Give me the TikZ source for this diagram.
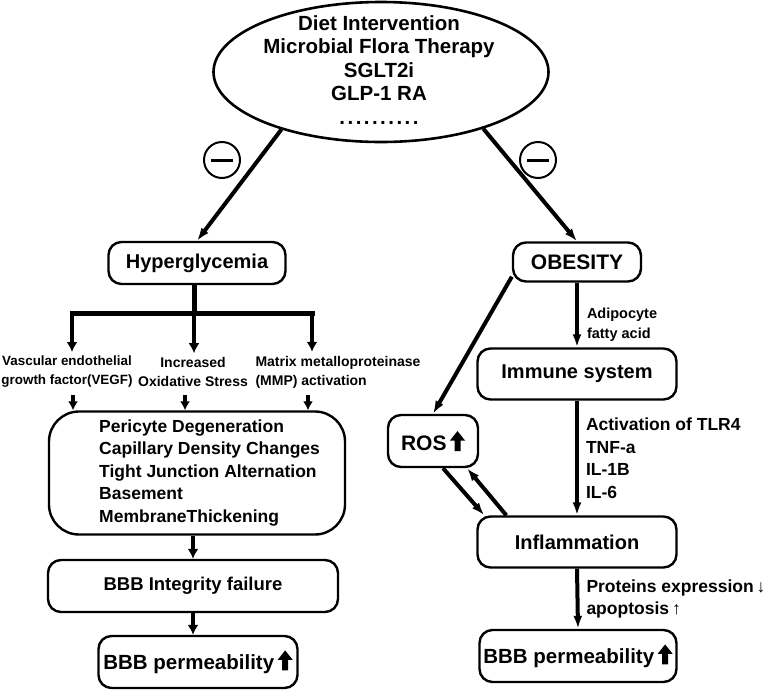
\documentclass[tikz,border=0pt]{standalone}
\usepackage{fontspec}
\setmainfont{Liberation Sans}
\usetikzlibrary{shapes.geometric,arrows.meta,positioning}

% solid up arrow used after "permeability" and "ROS"
\newcommand\thickup{\tikz[x=1pt,y=1pt,baseline=0pt,sharp corners]\fill (-3,-1) -- (3,-1) -- (3,9.5) -- (7.5,9.5) -- (0,19) -- (-7.5,9.5) -- (-3,9.5) -- cycle;}

\tikzset{
  box/.style={draw, line width=2.4pt, rounded corners=13pt, inner sep=0pt, align=center,
    font=\bfseries\fontsize{20}{24}\selectfont},
  note/.style={font=\bfseries\fontsize{14}{19}\selectfont, inner sep=0pt},
  thickarr/.style={line width=4pt, -{Latex[length=13pt,width=9pt]}},
  droparr/.style={line width=4.5pt, -{Latex[length=10pt,width=11pt]}},
  minus/.style={circle, draw, line width=2pt, minimum size=36pt},
}

\begin{document}
\begin{tikzpicture}[x=1pt,y=-1pt]
  \useasboundingbox (0,0) rectangle (765,691);
  % treatments on top
  \node[ellipse, draw, line width=2.6pt, minimum width=335pt, minimum height=140pt] (treat) at (381,72) {};
  \node[font=\bfseries\fontsize{20.5}{23.5}\selectfont, align=center] (treattext) at (379,70)
    {Diet Intervention\\Microbial Flora Therapy\\SGLT2i\\GLP-1 RA\\{\addfontfeatures{LetterSpace=12}..........}};
  \node[minus] (minusL) at (222,160) {};
  \node[minus] (minusR) at (538,160) {};
  \foreach \m in {minusL,minusR}
    \draw[line width=3pt] ([xshift=-11pt]\m.center) -- ([xshift=11pt]\m.center);

  % left branch
  \node[box, minimum width=177pt, minimum height=42pt] (hyper) at (197,263) {Hyperglycemia};
  \draw[thickarr] (treat.210) -- (hyper.north);
  \coordinate (brL) at (72,313);
  \coordinate (brM) at (194,313);
  \coordinate (brR) at (312,313);
  \draw[line width=5pt] (brM |- hyper.south) -- (brM);
  \draw[line width=5pt, line cap=rect] (brL) -- (brR);
  \node[note, align=center, font=\bfseries\fontsize{13.4}{19}\selectfont] (vegf) at (67,372) {Vascular endothelial\\growth factor(VEGF)};
  \node[note, align=center] (oxid) at (193,372) {Increased\\Oxidative Stress};
  \node[note, align=left] (mmp) at (338,372) {Matrix metalloproteinase\\(MMP) activation};
  \foreach \c/\n in {brL/vegf,brM/oxid,brR/mmp}
    \draw[droparr] (\c) -- ([yshift=4pt]\c |- \n.north);

  \node[box, rounded corners=30pt, minimum width=296pt, minimum height=123pt] (patho) at (197,473) {};
  \node[align=left, anchor=west, inner sep=0pt, font=\bfseries\fontsize{17.5}{22.5}\selectfont] (pathotext) at (99,473)
    {Pericyte Degeneration\\Capillary Density Changes\\Tight Junction Alternation\\Basement\\MembraneThickening};
  \foreach \x [count=\i] in {73,185,308}
    \coordinate (drop\i) at (\x,395);
  \foreach \i in {1,2,3}
    \draw[line width=4pt, -{Latex[length=9pt,width=10pt]}] (drop\i) -- (drop\i |- patho.north);

  \node[box, minimum width=290pt, minimum height=52pt, font=\bfseries\fontsize{18.5}{23}\selectfont] (integ) at (193,586) {BBB Integrity failure};
  \node[box, minimum width=199pt, minimum height=52pt, font=\bfseries\fontsize{20.5}{24}\selectfont] (permL) at (198,662) {BBB permeability\,\thickup};
  \draw[droparr] (patho.south -| integ.north) -- (integ.north);
  \draw[droparr] (integ.south) -- (integ.south |- permL.north);

  % right branch
  \node[box, minimum width=128pt, minimum height=39pt, font=\bfseries\fontsize{21}{24}\selectfont] (obese) at (577,262) {OBESITY};
  \draw[thickarr] (treat.331) -- (obese.north);
  \node[box, minimum width=199pt, minimum height=51pt] (immune) at (577,374) {Immune system};
  \node[box, minimum width=90pt, minimum height=52pt, font=\bfseries\fontsize{21}{24}\selectfont] (ros) at (433,441) {ROS\,\thickup};
  \node[box, minimum width=199pt, minimum height=51pt] (inflam) at (577,542) {Inflammation};
  \node[box, minimum width=197pt, minimum height=52pt, font=\bfseries\fontsize{20.5}{24}\selectfont] (permR) at (578,656) {BBB permeability\,\thickup};

  \draw[thickarr] (obese.south) -- (immune.north)
    node[note, align=left, anchor=west, pos=0.65, xshift=8pt, font=\bfseries\fontsize{14.5}{19.5}\selectfont] (adipo) {Adipocyte\\fatty acid};
  \draw[thickarr] ([yshift=6pt]obese.south west) -- (ros.north);
  \draw[thickarr] (immune.south) -- (inflam.north)
    node[note, align=left, anchor=west, midway, xshift=7pt, font=\bfseries\fontsize{17.5}{22.5}\selectfont] (tlr)
    {Activation of TLR4\\TNF-a\\IL-1B\\IL-6};
  \draw[thickarr] ([xshift=10pt]ros.south) -- ([xshift=8pt]inflam.north west);
  \draw[thickarr] ([xshift=30pt]inflam.north west) -- ([xshift=34pt]ros.south);
  \draw[thickarr] (inflam.south) -- (permR.north)
    node[note, align=left, anchor=west, midway, xshift=7pt, font=\bfseries\fontsize{17.5}{22.5}\selectfont] (prot)
    {Proteins expression\,↓\\apoptosis\,↑};
\end{tikzpicture}
\end{document}
